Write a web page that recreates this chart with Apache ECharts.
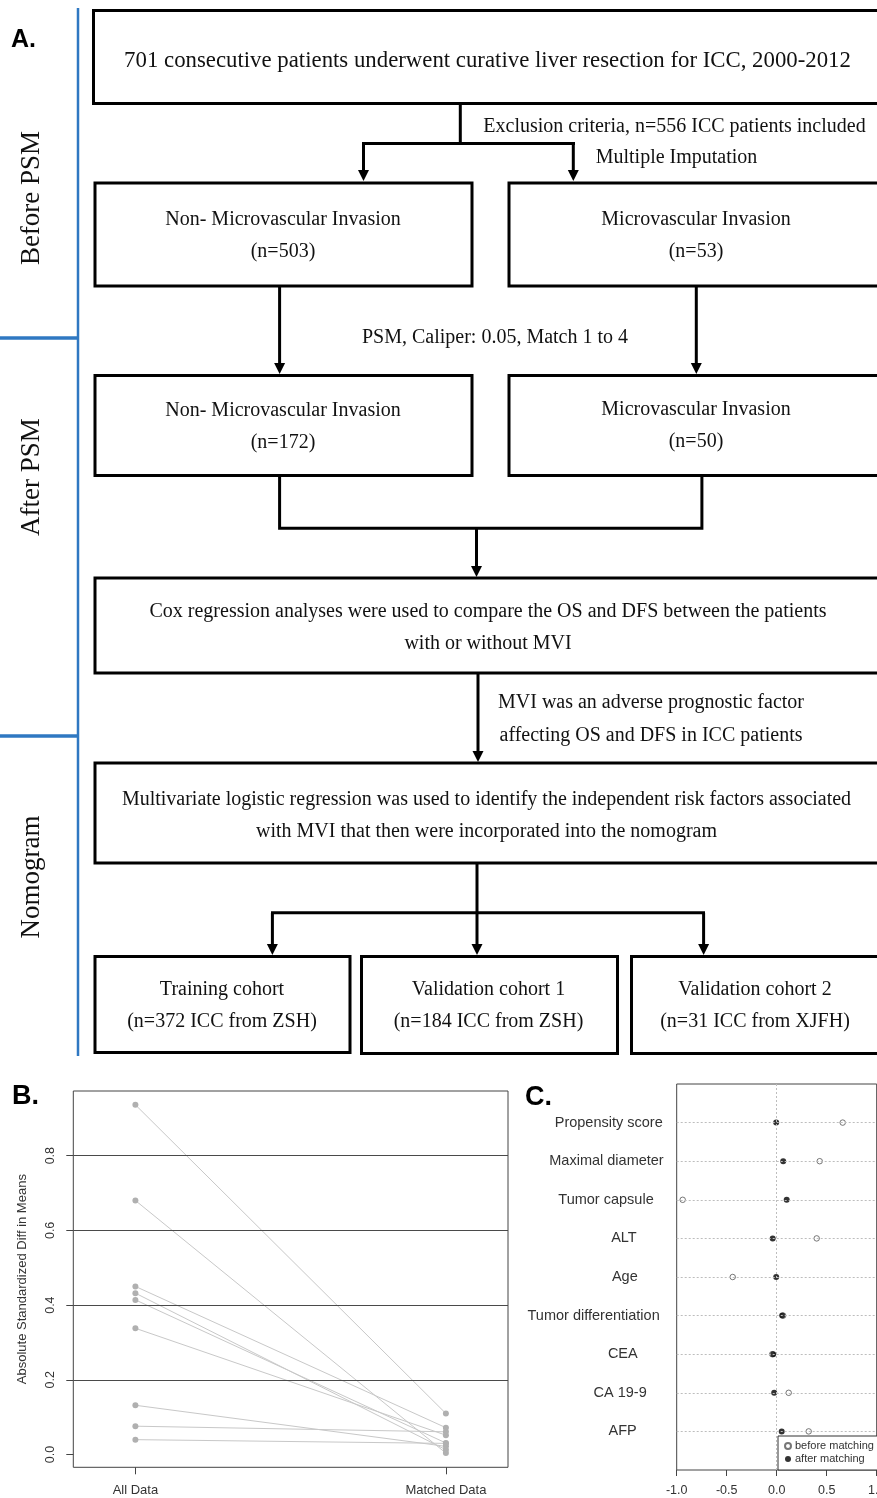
<!DOCTYPE html>
<html>
<head>
<meta charset="utf-8">
<script src="https://cdn.jsdelivr.net/npm/echarts@6/dist/echarts.min.js"></script>
<style>
  html, body { margin: 0; padding: 0; background: #fff; }
  #chart { width: 877px; height: 1498px; }
</style>
</head>
<body>
<div id="chart"></div>
<script>
// ---------- Panel A: study flow ----------
const stageLabels = ['Before PSM', 'After PSM', 'Nomogram'];
const flowBoxTexts = [
  ['701 consecutive patients underwent curative liver resection for ICC, 2000-2012'],
  ['Non- Microvascular Invasion', '(n=503)'],
  ['Microvascular Invasion', '(n=53)'],
  ['Non- Microvascular Invasion', '(n=172)'],
  ['Microvascular Invasion', '(n=50)'],
  ['Cox regression analyses were used to compare the OS and DFS between the patients', 'with or without MVI'],
  ['Multivariate logistic regression was used to identify the independent risk factors associated', 'with MVI that then were incorporated into the nomogram'],
  ['Training cohort', '(n=372 ICC from ZSH)'],
  ['Validation cohort 1', '(n=184 ICC from ZSH)'],
  ['Validation cohort 2', '(n=31 ICC from XJFH)']
];
const flowNotes = [
  'Exclusion criteria, n=556 ICC patients included',
  'Multiple Imputation',
  'PSM, Caliper: 0.05, Match 1 to 4',
  'MVI was an adverse prognostic factor',
  'affecting OS and DFS in ICC patients'
];
const panelLetters = ['A.', 'B.', 'C.'];

// ---------- Panel B: absolute standardized differences ----------
const balanceGroups = ['All Data', 'Matched Data'];
const balanceCovariates = ['Tumor capsule', 'Propensity score', 'Maximal diameter', 'Age', 'ALT', 'AFP', 'CA 19-9', 'Tumor differentiation', 'CEA'];
const absDiffAll     = [0.936, 0.680, 0.450, 0.432, 0.414, 0.338, 0.132, 0.076, 0.040];
const absDiffMatched = [0.110, 0.004, 0.072, 0.013, 0.031, 0.052, 0.022, 0.061, 0.030];
const absDiffTicks = [0, 0.2, 0.4, 0.6, 0.8];
const absDiffRefLines = [0.2, 0.4, 0.6, 0.8];

// ---------- Panel C: standardized differences per variable ----------
const dotVariables = ['Propensity score', 'Maximal diameter', 'Tumor capsule', 'ALT', 'Age', 'Tumor differentiation', 'CEA', 'CA 19-9', 'AFP'];
const diffBefore = [0.66, 0.43, -0.94, 0.40, -0.44, 0.065, -0.045, 0.12, 0.32];
const diffAfter  = [-0.005, 0.065, 0.10, -0.04, -0.005, 0.055, -0.035, -0.025, 0.05];
const diffTicks = [-1.0, -0.5, 0.0, 0.5, 1.0];
const dotLegend = ['before matching', 'after matching'];

// ---------- layout ----------
const SERIF = '"Liberation Serif", "Times New Roman", serif';
const SANS = '"Liberation Sans", Arial, sans-serif';
const BLUE = '#2f78c2';

// boxes: x, y, w, h of stroke centre; text centre x and line middles
const boxLayout = [
  { x: 93.5, y: 10.5, w: 830, h: 93, cx: 487.5, ty: [61.5], fs: 22.8 },
  { x: 95, y: 183, w: 377, h: 103, cx: 283, ty: [220, 251.5], fs: 20 },
  { x: 509, y: 183, w: 420, h: 103, cx: 696, ty: [220, 251.5], fs: 20 },
  { x: 95, y: 375.5, w: 377, h: 100, cx: 283, ty: [410.5, 442.5], fs: 20 },
  { x: 509, y: 375.5, w: 420, h: 100, cx: 696, ty: [410, 441.5], fs: 20 },
  { x: 95, y: 578, w: 830, h: 95, cx: 488, ty: [611.5, 643.5], fs: 20 },
  { x: 95, y: 763, w: 830, h: 100, cx: 486.5, ty: [799.5, 831.5], fs: 20 },
  { x: 95, y: 956.5, w: 255, h: 96, cx: 222, ty: [990, 1021.5], fs: 20 },
  { x: 361.5, y: 956.5, w: 256, h: 97, cx: 488.5, ty: [990, 1021.5], fs: 20 },
  { x: 631.5, y: 956.5, w: 300, h: 97, cx: 755, ty: [990, 1021.5], fs: 20 }
];
const noteLayout = [
  { cx: 674.5, y: 126.5, fs: 20 },
  { cx: 676.5, y: 158, fs: 20 },
  { cx: 495, y: 338, fs: 20 },
  { cx: 651, y: 703, fs: 20 },
  { cx: 651, y: 736, fs: 20 }
];
const stageLayout = [
  { cx: 32, cy: 198 },
  { cx: 32, cy: 477 },
  { cx: 32, cy: 877 }
];
const letterLayout = [
  { x: 11, y: 40, fs: 25 },
  { x: 12, y: 1097, fs: 27 },
  { x: 525, y: 1098, fs: 27 }
];
const connectorPaths = [
  [[460.3, 103], [460.3, 143.5]],
  [[362, 143.5], [575, 143.5]],
  [[279.6, 476], [279.6, 528.3], [701.9, 528.3], [701.9, 476]],
  [[271, 912.7], [705, 912.7]]
];
const arrowLayout = [ // x, start y, tip y
  [363.5, 143.5, 181], [573.3, 143.5, 181],
  [279.6, 287, 374], [696.3, 287, 374],
  [476.5, 528.3, 577], [478, 673, 762],
  [477, 863, 955], [272.4, 912.7, 955], [703.6, 912.7, 955]
];
const blueLines = [
  { p: [[78, 8], [78, 1056]], w: 2.5 },
  { p: [[0, 338], [78, 338]], w: 3.5 },
  { p: [[0, 736], [78, 736]], w: 3.5 }
];

function textEl(x, y, text, font, opts) {
  return Object.assign({
    type: 'text', x: x, y: y, silent: true,
    style: {
      text: text, font: font, fill: '#111',
      align: 'center', verticalAlign: 'middle',
      textAlign: 'center', textVerticalAlign: 'middle'
    }
  }, opts || {});
}

const graphics = [];
// flow boxes
flowBoxTexts.forEach((lines, i) => {
  const b = boxLayout[i];
  graphics.push({
    type: 'rect', silent: true,
    shape: { x: b.x, y: b.y, width: b.w, height: b.h },
    style: { fill: '#fff', stroke: '#000', lineWidth: 3 }
  });
  lines.forEach((t, j) => {
    graphics.push(textEl(b.cx, b.ty[j], t, b.fs + 'px ' + SERIF));
  });
});
// notes beside the connectors
flowNotes.forEach((t, i) => {
  const n = noteLayout[i];
  graphics.push(textEl(n.cx, n.y, t, n.fs + 'px ' + SERIF));
});
// connectors
connectorPaths.forEach(p => {
  graphics.push({
    type: 'polyline', silent: true, shape: { points: p },
    style: { stroke: '#000', lineWidth: 3, fill: null }
  });
});
arrowLayout.forEach(([x, y0, tip]) => {
  graphics.push({
    type: 'line', silent: true,
    shape: { x1: x, y1: y0, x2: x, y2: tip - 9 },
    style: { stroke: '#000', lineWidth: 3 }
  });
  graphics.push({
    type: 'polygon', silent: true,
    shape: { points: [[x - 5.5, tip - 11], [x + 5.5, tip - 11], [x, tip]] },
    style: { fill: '#000' }
  });
});
// stage bar
blueLines.forEach(b => {
  graphics.push({
    type: 'polyline', silent: true, shape: { points: b.p },
    style: { stroke: BLUE, lineWidth: b.w, fill: null }
  });
});
stageLabels.forEach((t, i) => {
  const s = stageLayout[i];
  graphics.push(textEl(s.cx, s.cy, t, '27px ' + SERIF, { rotation: Math.PI / 2 }));
});
// panel letters
panelLetters.forEach((t, i) => {
  const l = letterLayout[i];
  const el = textEl(l.x, l.y, t, 'bold ' + l.fs + 'px ' + SANS);
  el.style.align = 'left'; el.style.textAlign = 'left'; el.style.fill = '#000';
  graphics.push(el);
});

// ---------- series ----------
const seriesList = [];
balanceCovariates.forEach((name, i) => {
  const s = {
    type: 'line', name: name,
    xAxisIndex: 0, yAxisIndex: 0,
    data: [[1, absDiffAll[i]], [2, absDiffMatched[i]]],
    symbol: 'circle', symbolSize: 6,
    lineStyle: { color: '#c8c8c8', width: 1 },
    itemStyle: { color: '#b0b0b0' },
    silent: true, z: 3
  };
  if (i === 0) {
    s.markLine = {
      silent: true, symbol: ['none', 'none'], label: { show: false },
      lineStyle: { color: '#4a4a4a', width: 1.2, type: 'solid' },
      data: absDiffRefLines.map(v => ({ yAxis: v }))
    };
  }
  seriesList.push(s);
});

seriesList.push({
  type: 'scatter', name: dotLegend[0],
  xAxisIndex: 1, yAxisIndex: 1,
  data: diffBefore.map((v, i) => [v, i + 1]),
  symbol: 'circle', symbolSize: 5.5,
  itemStyle: { color: '#fff', borderColor: '#555', borderWidth: 1 },
  silent: true, z: 3,
  markLine: {
    silent: true, symbol: ['none', 'none'], label: { show: false },
    lineStyle: { color: '#bdbdbd', width: 1, type: [2, 2] },
    data: dotVariables.map((_, i) => ({ yAxis: i + 1 })).concat([{ xAxis: 0 }])
  }
});
seriesList.push({
  type: 'scatter', name: dotLegend[1],
  xAxisIndex: 1, yAxisIndex: 1,
  data: diffAfter.map((v, i) => [v, i + 1]),
  symbol: 'circle', symbolSize: 6,
  itemStyle: { color: '#000' },
  silent: true, z: 4
});

// per-row right inset of the variable names in panel C
const dotLabelInset = [14, 13, 23, 40, 39, 17, 39, 30, 40];
const dotRich = {};
dotLabelInset.forEach((p, i) => {
  dotRich['r' + i] = { padding: [0, p, 0, 0], fontSize: 14.5, fontFamily: SANS, color: '#333' };
});

const option = {
  animation: false,
  backgroundColor: '#fff',
  graphic: { elements: graphics },
  grid: [
    { left: 73.3, top: 1091, width: 434.7, height: 376.3, show: true, borderColor: '#444', borderWidth: 1, backgroundColor: 'transparent', containLabel: false, outerBoundsMode: 'none' },
    { left: 676.7, top: 1084, width: 200, height: 386, show: true, borderColor: '#444', borderWidth: 1, backgroundColor: 'transparent', containLabel: false, outerBoundsMode: 'none' }
  ],
  xAxis: [
    {
      gridIndex: 0, type: 'value', min: 0.8, max: 2.2,
      axisLine: { show: false, onZero: false },
      splitLine: { show: false },
      axisTick: { show: true, customValues: [1, 2], length: 7, lineStyle: { color: '#444' } },
      axisLabel: {
        customValues: [1, 2], margin: 17,
        formatter: v => balanceGroups[Math.round(v) - 1] || '',
        fontSize: 13, fontFamily: SANS, color: '#333'
      }
    },
    {
      gridIndex: 1, type: 'value', min: -1, max: 1, interval: 0.5,
      axisLine: { show: false, onZero: false },
      splitLine: { show: false },
      axisTick: { show: true, length: 6, lineStyle: { color: '#444' } },
      axisLabel: {
        margin: 14, showMinLabel: true, showMaxLabel: true, hideOverlap: false,
        formatter: v => v.toFixed(1),
        fontSize: 12.5, fontFamily: SANS, color: '#333'
      }
    }
  ],
  yAxis: [
    {
      gridIndex: 0, type: 'value', min: -0.034, max: 0.973,
      name: 'Absolute Standardized Diff in Means',
      nameLocation: 'middle', nameGap: 44, nameRotate: 90,
      nameTextStyle: { fontSize: 13, fontFamily: SANS, color: '#333' },
      axisLine: { show: false, onZero: false },
      splitLine: { show: false },
      axisTick: { show: true, customValues: absDiffTicks, length: 7, lineStyle: { color: '#444' } },
      axisLabel: {
        customValues: absDiffTicks, rotate: 90, margin: 16,
        formatter: v => v.toFixed(1),
        fontSize: 12.5, fontFamily: SANS, color: '#333'
      }
    },
    {
      gridIndex: 1, type: 'value', min: 0, max: 10, inverse: true,
      axisLine: { show: false, onZero: false },
      splitLine: { show: false },
      axisTick: { show: false },
      axisLabel: {
        customValues: dotVariables.map((_, i) => i + 1), margin: 0,
        formatter: v => {
          const i = Math.round(v) - 1;
          return '{r' + i + '|' + dotVariables[i] + '}';
        },
        rich: dotRich
      }
    }
  ],
  legend: {
    data: [{ name: dotLegend[0], icon: 'circle' }, { name: dotLegend[1], icon: 'circle' }],
    orient: 'vertical', left: 778, top: 1436,
    itemWidth: 6, itemHeight: 6, itemGap: 1,
    padding: [4, 20, 5, 6],
    borderColor: '#333', borderWidth: 1, borderRadius: 0,
    backgroundColor: '#fff',
    textStyle: { fontSize: 11, fontFamily: SANS, color: '#333', lineHeight: 12, padding: [0, 0, 0, -1] },
    selectedMode: false, z: 10
  },
  series: seriesList
};

const chart = echarts.init(document.getElementById('chart'), null, { renderer: 'canvas' });
chart.setOption(option);
</script>
</body>
</html>
